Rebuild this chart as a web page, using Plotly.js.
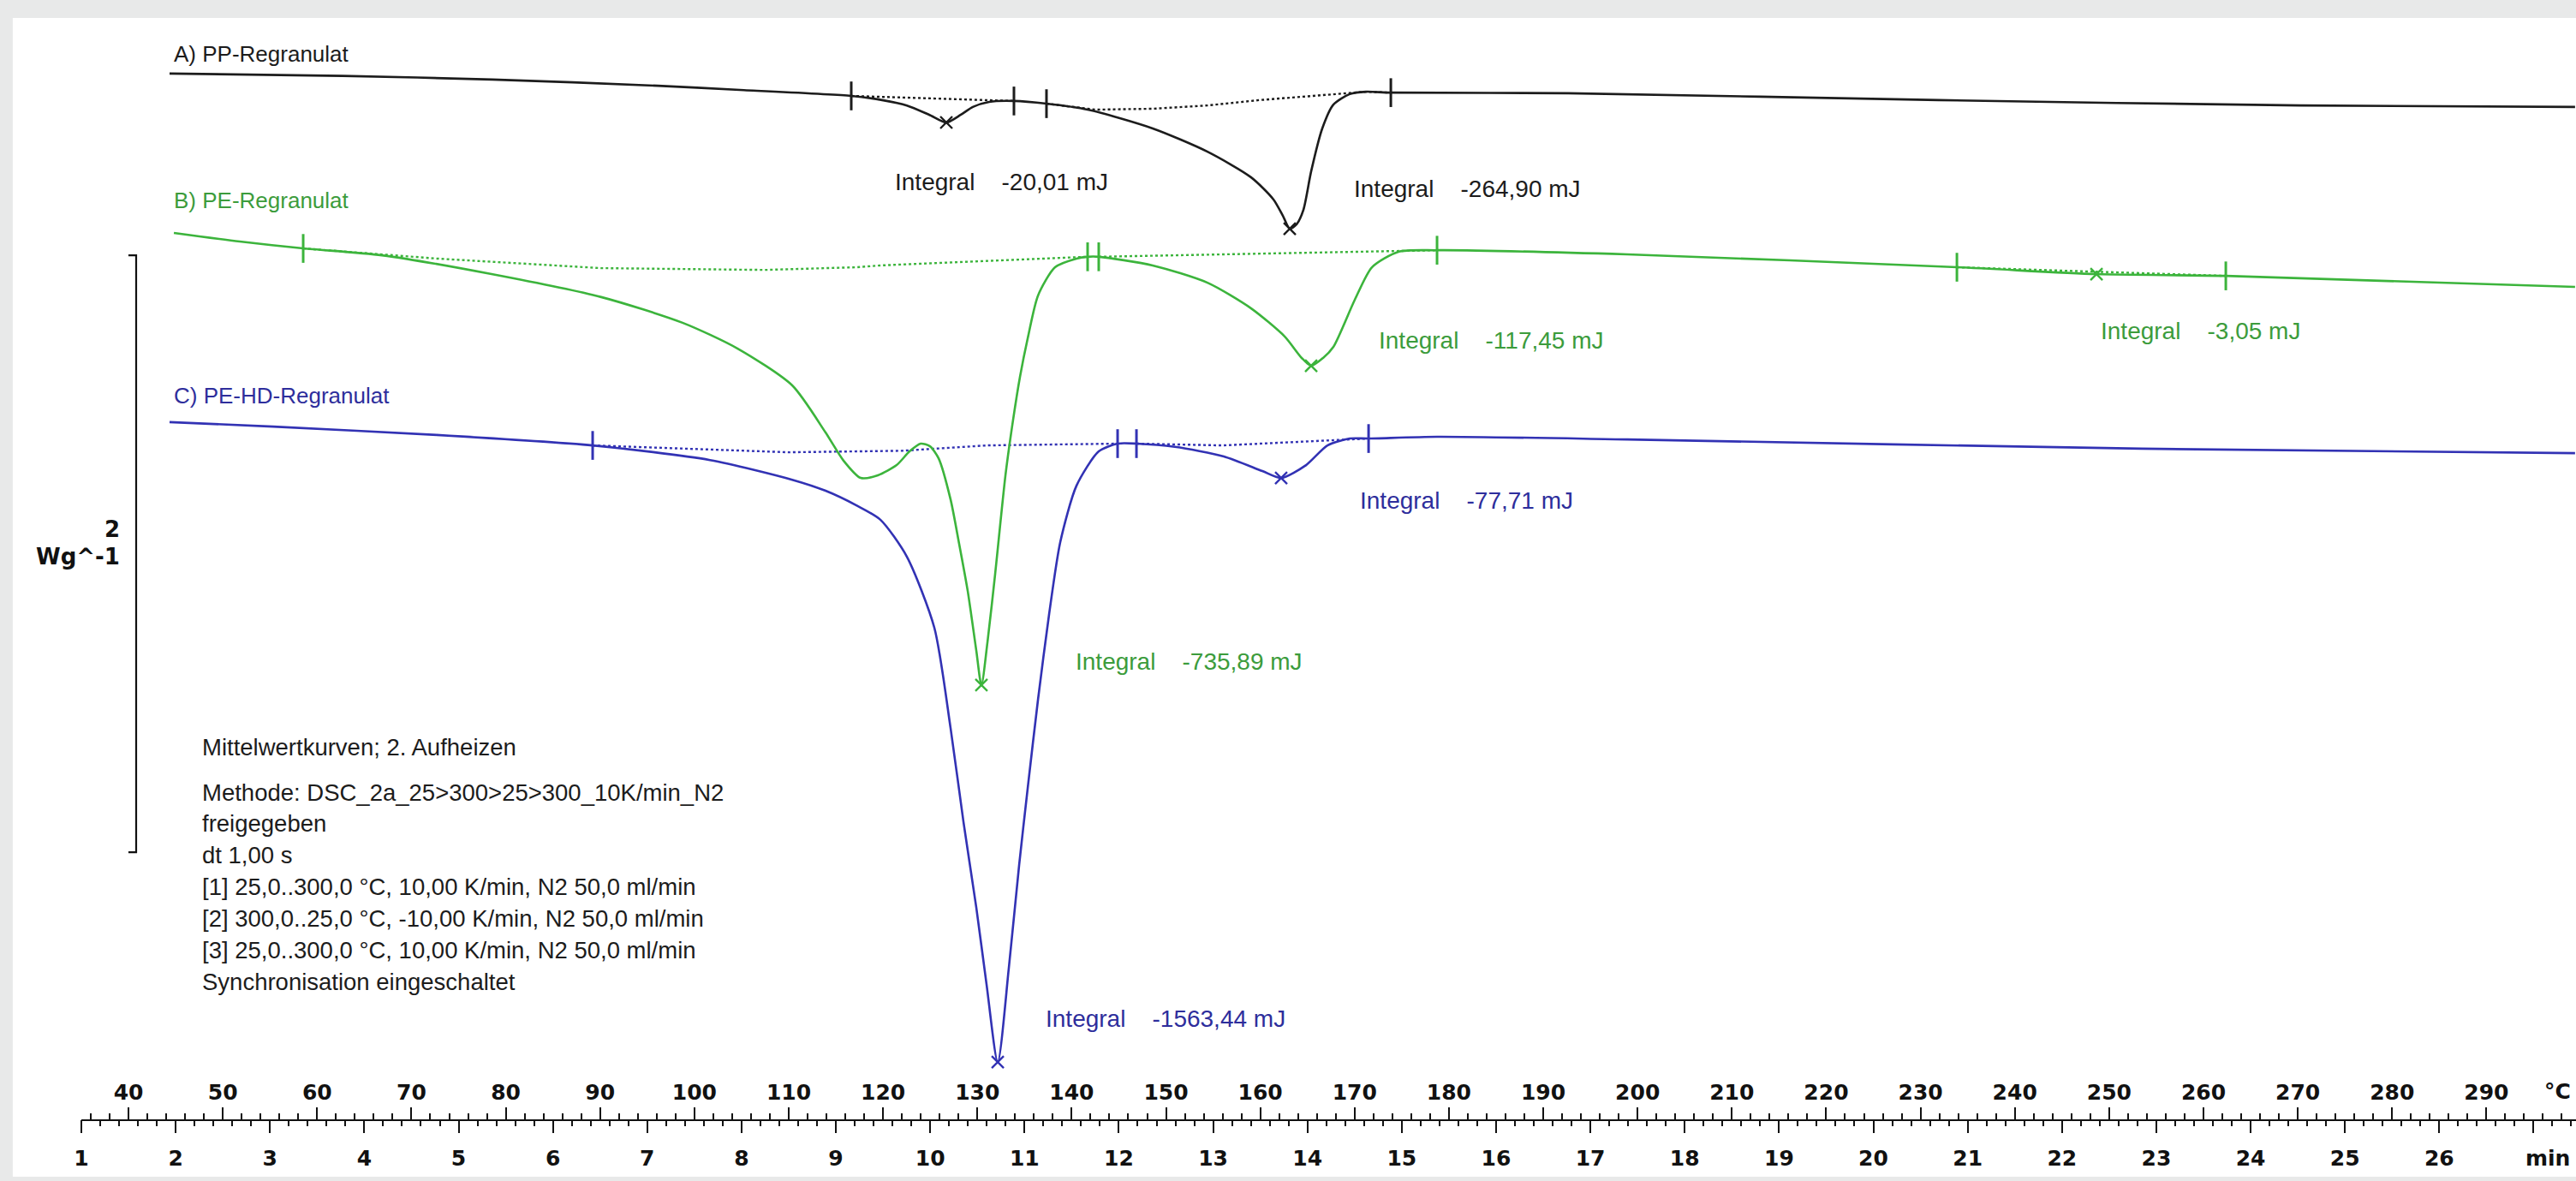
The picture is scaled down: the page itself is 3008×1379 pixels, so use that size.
<!DOCTYPE html>
<html><head><meta charset="utf-8">
<script src="https://cdn.plot.ly/plotly-3.0.1.min.js"></script>
<style>html,body{margin:0;padding:0;background:#e8e9e9;overflow:hidden}#chart{width:3008px;height:1379px}</style>
</head><body><div id="chart"></div>
<script>
// Temperature in °C, heat flow in W/g (curves shown with the display offsets of the original)
const ppT = [44.35,62.69,78.59,96.11,104.83,116.63,119.90,122.53,124.89,126.71,128.25,129.52,131.25,133.88,137.33,141.69,148.59,154.40,159.03,161.40,162.40,163.12,163.85,164.57,165.39,166.57,167.75,169.48,171.20,173.84,192.63,231.95,270.27,299.4];
const ppY = [3.504,3.496,3.484,3.463,3.449,3.429,3.415,3.397,3.366,3.340,3.366,3.392,3.409,3.412,3.403,3.383,3.320,3.242,3.156,3.082,3.027,2.984,2.999,3.047,3.176,3.320,3.400,3.435,3.443,3.440,3.438,3.415,3.397,3.392];
const peT = [44.81,51.80,58.52,66.87,78.49,90.12,98.74,104.55,110.37,113.91,115.81,117.63,119.45,121.44,122.81,123.99,124.98,125.89,127.16,128.07,128.98,129.89,130.43,131.07,131.89,132.98,133.79,134.52,135.34,136.43,138.24,140.51,141.69,142.87,148.59,154.40,159.03,162.58,164.39,165.39,166.66,167.75,170.02,171.84,174.65,178.74,198.90,233.86,248.66,262.37,299.4];
const peY = [2.970,2.941,2.918,2.895,2.832,2.755,2.669,2.583,2.459,2.301,2.207,2.149,2.158,2.192,2.238,2.264,2.255,2.215,2.077,1.928,1.770,1.570,1.455,1.598,1.828,2.158,2.344,2.488,2.617,2.760,2.855,2.884,2.890,2.890,2.861,2.803,2.717,2.623,2.551,2.525,2.551,2.588,2.746,2.855,2.907,2.912,2.898,2.855,2.832,2.826,2.789];
const hdT = [44.35,55.34,72.68,89.21,101.65,110.37,113.91,117.18,119.72,122.53,125.44,127.16,128.53,129.89,130.98,132.16,133.34,134.43,135.34,136.43,137.61,138.79,140.51,142.87,144.87,146.87,150.95,156.13,160.22,162.21,164.85,167.12,169.48,171.48,178.74,198.90,253.4,299.4];
const hdY = [2.336,2.321,2.293,2.258,2.209,2.143,2.106,2.057,2.009,1.885,1.647,1.311,0.996,0.709,0.451,0.192,0.508,0.852,1.110,1.406,1.693,1.934,2.123,2.238,2.264,2.264,2.253,2.221,2.172,2.149,2.192,2.258,2.281,2.281,2.287,2.278,2.247,2.232];

// integration baselines
const ppBase1T = [116.63,133.88], ppBase1Y = [3.429,3.412];
const ppBase2T = [137.33,142.5,148.6,154.4,159.9,165.7,171.2,173.84], ppBase2Y = [3.403,3.383,3.386,3.397,3.415,3.429,3.443,3.440];
const peBase1T = [58.52,72.7,90.1,107.5,117.2,119.7,137.1,141.69], peBase1Y = [2.918,2.884,2.852,2.846,2.855,2.861,2.884,2.890];
const peBase2T = [142.87,178.74], peBase2Y = [2.890,2.912];
const peBase3T = [233.86,262.37], peBase3Y = [2.855,2.826];
const hdBase1T = [89.21,110,122,131,144.87], hdBase1Y = [2.258,2.235,2.240,2.258,2.264];
const hdBase2T = [146.87,156,171.48], hdBase2Y = [2.264,2.258,2.281];

// integration limits and peak marks
const ppLimT = [116.63,133.88,137.33,173.84], ppLimY = [3.429,3.412,3.403,3.440];
const peLimT = [58.52,141.69,142.87,178.74,233.86,262.37], peLimY = [2.918,2.890,2.890,2.912,2.855,2.826];
const hdLimT = [89.21,144.87,146.87,171.48], hdLimY = [2.258,2.264,2.264,2.281];
const ppPeakT = [126.71,163.12], ppPeakY = [3.340,2.984];
const pePeakT = [130.43,165.39,248.66], pePeakY = [1.455,2.525,2.832];
const hdPeakT = [132.16,162.21], hdPeakY = [0.192,2.149];

// integral results (mJ)
const ppIntegrals = ['-20,01','-264,90'];
const peIntegrals = ['-735,89','-117,45','-3,05'];
const hdIntegrals = ['-1563,44','-77,71'];

const curveNames = ['A) PP-Regranulat','B) PE-Regranulat','C) PE-HD-Regranulat'];
const scaleBarWg = 2;
const tempTicks = [40,50,60,70,80,90,100,110,120,130,140,150,160,170,180,190,200,210,220,230,240,250,260,270,280,290];
const timeTicks = [1,2,3,4,5,6,7,8,9,10,11,12,13,14,15,16,17,18,19,20,21,22,23,24,25,26,27];
const infoTitle = 'Mittelwertkurven; 2. Aufheizen';
const infoLines = ['Methode: DSC_2a_25&gt;300&gt;25&gt;300_10K/min_N2','freigegeben','dt 1,00 s',
  '[1] 25,0..300,0 °C, 10,00 K/min, N2 50,0 ml/min','[2] 300,0..25,0 °C, -10,00 K/min, N2 50,0 ml/min',
  '[3] 25,0..300,0 °C, 10,00 K/min, N2 50,0 ml/min','Synchronisation eingeschaltet'];

const BLACK = '#1c1c1c', GREEN = '#3cb43c', BLUE = '#3232b4';
const GREEN_TXT = '#3c9c3c', BLUE_TXT = '#2e2e9c';

function line(x, y, color, dash) {
  return dash
    ? {x, y, type: 'scatter', mode: 'lines', line: {color, width: 2.4, dash}, hoverinfo: 'skip', showlegend: false}
    : {x, y, type: 'scatter', mode: 'lines', line: {color, width: 2.6, shape: 'spline', smoothing: 0.7}, hoverinfo: 'skip', showlegend: false};
}
function limits(x, y, color) {
  return {x, y, type: 'scatter', mode: 'markers', marker: {symbol: 'line-ns', size: 24, line: {color, width: 3}}, hoverinfo: 'skip', showlegend: false};
}
function peaks(x, y, color) {
  return {x, y, type: 'scatter', mode: 'markers', marker: {symbol: 'x-thin', size: 14, line: {color, width: 2.4}}, hoverinfo: 'skip', showlegend: false};
}

const traces = [
  line(ppBase1T, ppBase1Y, BLACK, 'dot'), line(ppBase2T, ppBase2Y, BLACK, 'dot'),
  line(peBase1T, peBase1Y, GREEN, 'dot'), line(peBase2T, peBase2Y, GREEN, 'dot'), line(peBase3T, peBase3Y, GREEN, 'dot'),
  line(hdBase1T, hdBase1Y, BLUE, 'dot'), line(hdBase2T, hdBase2Y, BLUE, 'dot'),
  line(ppT, ppY, BLACK), line(peT, peY, GREEN), line(hdT, hdY, BLUE),
  limits(ppLimT, ppLimY, BLACK), limits(peLimT, peLimY, GREEN), limits(hdLimT, hdLimY, BLUE),
  peaks(ppPeakT, ppPeakY, BLACK), peaks(pePeakT, pePeakY, GREEN), peaks(hdPeakT, hdPeakY, BLUE),
  // time axis carrier (invisible)
  {x: [timeTicks[0]], y: [0], xaxis: 'x2', type: 'scatter', mode: 'markers', marker: {opacity: 0}, hoverinfo: 'skip', showlegend: false}
];

const NB = '\u00a0\u00a0\u00a0\u00a0';
const txtFont = (c, s) => ({family: 'Liberation Sans, Arial, sans-serif', size: s || 28, color: c});
function ann(x, y, text, color, size, extra) {
  return Object.assign({x, y, xref: 'x', yref: 'y', text, showarrow: false, xanchor: 'left', yanchor: 'middle', font: txtFont(color, size)}, extra || {});
}
const boldFont = {family: 'DejaVu Sans', size: 26, color: '#111', weight: 'bold'};
const unitFont = {family: 'DejaVu Sans', size: 25, color: '#111', weight: 'bold'};

const annotations = [
  ann(44.63, 3.570, curveNames[0], BLACK, 26),
  ann(44.63, 3.079, curveNames[1], GREEN_TXT, 26),
  ann(44.63, 2.425, curveNames[2], BLUE_TXT, 26),
  ann(121.08, 3.142, 'Integral' + NB + ppIntegrals[0] + ' mJ', BLACK),
  ann(169.75, 3.119, 'Integral' + NB + ppIntegrals[1] + ' mJ', BLACK),
  ann(140.24, 1.535, 'Integral' + NB + peIntegrals[0] + ' mJ', GREEN_TXT),
  ann(172.38, 2.611, 'Integral' + NB + peIntegrals[1] + ' mJ', GREEN_TXT),
  ann(248.93, 2.640, 'Integral' + NB + peIntegrals[2] + ' mJ', GREEN_TXT),
  ann(137.06, 0.336, 'Integral' + NB + hdIntegrals[0] + ' mJ', BLUE_TXT),
  ann(170.39, 2.072, 'Integral' + NB + hdIntegrals[1] + ' mJ', BLUE_TXT),
  ann(47.62, 1.248, infoTitle, BLACK, 27.5),
  {x: 39.27, y: 1.977, xref: 'x', yref: 'y', text: String(scaleBarWg), showarrow: false, xanchor: 'right', yanchor: 'middle', font: boldFont},
  {x: 39.27, y: 1.885, xref: 'x', yref: 'y', text: 'Wg^-1', showarrow: false, xanchor: 'right', yanchor: 'middle', font: boldFont},
  {x: 296.0, y: 1 - 1274 / 1307, xref: 'x', yref: 'paper', text: '°C', showarrow: false, xanchor: 'left', yanchor: 'middle', font: unitFont},
  {x: 294.0, y: 1 - 1352 / 1307, xref: 'x', yref: 'paper', text: 'min', showarrow: false, xanchor: 'left', yanchor: 'middle', font: unitFont}
];
infoLines.forEach((t, i) => annotations.push(ann(47.62, 1.096 - i * 0.1058, t, BLACK, 27.5)));

const barTop = 2.895, barX = 40.81, barFoot = 39.99;
const shapes = [
  {type: 'rect', xref: 'paper', yref: 'paper', x0: -0.0275, x1: 1.01, y0: -0.0513, y1: 0.9839, fillcolor: '#ffffff', line: {width: 0}, layer: 'below'},
  {type: 'path', xref: 'x', yref: 'y', layer: 'above',
   path: `M ${barFoot} ${barTop} L ${barX} ${barTop} L ${barX} ${barTop - scaleBarWg} L ${barFoot} ${barTop - scaleBarWg}`,
   line: {color: '#111', width: 2.2}}
];

const tickFont = {family: 'DejaVu Sans', size: 25, color: '#111', weight: 'bold'};
const layout = {
  width: 3008, height: 1379,
  margin: {l: 95, r: 0, t: 0, b: 72, pad: 0},
  paper_bgcolor: '#e8e9e9', plot_bgcolor: 'rgba(0,0,0,0)',
  showlegend: false,
  xaxis: {
    range: [35, 299.5], showgrid: false, zeroline: false, showline: true, linecolor: '#111', linewidth: 2,
    tickmode: 'array', tickvals: tempTicks, ticktext: tempTicks.map(String),
    ticks: 'inside', ticklen: 14, tickwidth: 2, tickcolor: '#111',
    ticklabelposition: 'inside', tickfont: tickFont, ticklabelstandoff: 6,
    minor: {tickmode: 'linear', tick0: 36, dtick: 2, ticks: 'inside', ticklen: 7, tickwidth: 2, tickcolor: '#111'},
    fixedrange: true
  },
  xaxis2: {
    overlaying: 'x', anchor: 'y', side: 'bottom', range: [1, 27.45],
    showgrid: false, zeroline: false, showline: false,
    tickmode: 'array', tickvals: timeTicks, ticktext: timeTicks.map(v => v <= 26 ? String(v) : ''),
    ticks: 'outside', ticklen: 15, tickwidth: 2, tickcolor: '#111',
    tickfont: tickFont, ticklabelstandoff: 8,
    minor: {tickmode: 'linear', tick0: 1, dtick: 0.2, ticks: 'outside', ticklen: 7, tickwidth: 2, tickcolor: '#111'},
    fixedrange: true
  },
  yaxis: {range: [0, 1307 / 348.5], visible: false, fixedrange: true},
  annotations, shapes
};

Plotly.newPlot('chart', traces, layout, {staticPlot: true, displayModeBar: false});
</script>
</body></html>
